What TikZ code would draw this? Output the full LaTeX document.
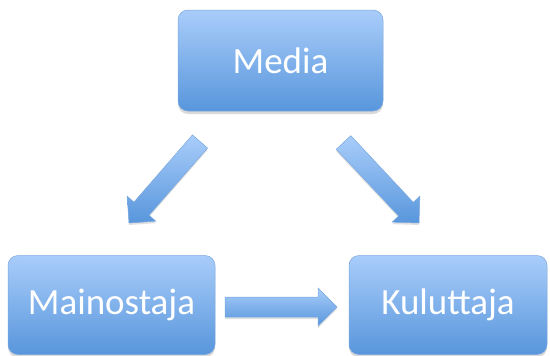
\documentclass[tikz,border=0pt]{standalone}
\usepackage{fontspec}
\setmainfont{Carlito}
\usetikzlibrary{calc,shadows}
\definecolor{boxtop}{HTML}{A9CDFA}
\definecolor{boxbot}{HTML}{5896DC}
\definecolor{boxline}{HTML}{7AA8E0}
\tikzset{
  box/.style={rounded corners=10pt, shade, top color=boxtop, bottom color=boxbot,
    draw=boxline, line width=0.5pt, text=white, font=\fontsize{37}{40}\selectfont,
    inner sep=0pt, drop shadow={shadow xshift=0pt, shadow yshift=-3pt, opacity=0.25, fill=black!60}},
  blockarrow/.style={shade, top color=boxtop, bottom color=boxbot, draw=boxline, line width=0.5pt,
    drop shadow={shadow xshift=0pt, shadow yshift=-2pt, opacity=0.2, fill=black!60},
    to path={
      ($(\tikztostart)!10pt!90:(\tikztotarget)$)
      -- ($($(\tikztotarget)!19pt!(\tikztostart)$)!10pt!-90:(\tikztostart)$)
      -- ($($(\tikztotarget)!19pt!(\tikztostart)$)!19pt!-90:(\tikztostart)$)
      -- (\tikztotarget)
      -- ($($(\tikztotarget)!19pt!(\tikztostart)$)!19pt!90:(\tikztostart)$)
      -- ($($(\tikztotarget)!19pt!(\tikztostart)$)!10pt!90:(\tikztostart)$)
      -- ($(\tikztostart)!10pt!-90:(\tikztotarget)$) -- cycle}}
}
\begin{document}
\begin{tikzpicture}[x=1pt,y=-1pt]
\useasboundingbox (0,0) rectangle (550,356);
\node[box, minimum width=205pt, minimum height=101pt] (media) at (280.5,60.5) {Media};
\node[box, minimum width=207pt, minimum height=99pt] (mainos) at (111.5,305) {Mainostaja};
\node[box, minimum width=198pt, minimum height=99pt] (kulut) at (448,305) {Kuluttaja};
\coordinate (a1s) at (200,141.5);
\coordinate (a1e) at (129,223);
\coordinate (a2s) at (343.5,142.5);
\coordinate (a2e) at (419,223);
\coordinate (a3s) at (225,307);
\coordinate (a3e) at (337,307);
\path[blockarrow] (a1s) to (a1e);
\path[blockarrow] (a2s) to (a2e);
\path[blockarrow] (a3s) to (a3e);
\end{tikzpicture}
\end{document}
